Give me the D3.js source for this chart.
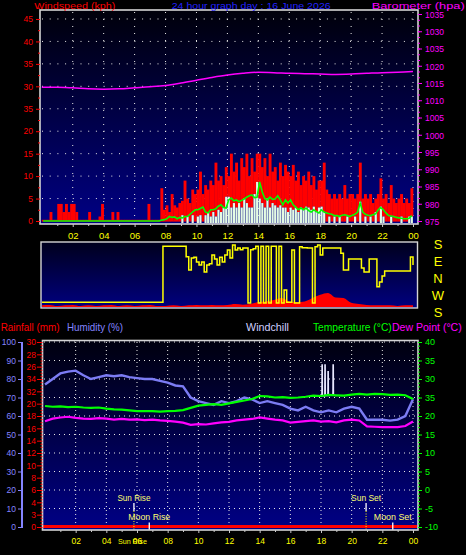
<!DOCTYPE html>
<html><head><meta charset="utf-8">
<script src="https://cdn.jsdelivr.net/npm/d3@7"></script>
<style>html,body{margin:0;padding:0;background:#000;}svg{display:block;}</style>
</head><body>
<svg id="c" width="466" height="555"></svg>
<script>
// ---------------- DATA ----------------
const hourTickValues = [2,4,6,8,10,12,14,16,18,20,22,24];
const hourTickLabels = ["02","04","06","08","10","12","14","16","18","20","22","00"];

// wind gust (kph), 10-minute samples, one row per hour
const gust = [
 0,0,0,2,0,0,  3.8,3.8,2,3.8,2,3.8,  3.8,2,0,0,0,0,  2,0,0,0,1,3.8,
 0,0,0,2,0,2,  0,0,0,0,0,0,  0,0,0,0,0,3.8,  0,0,0,0,7.3,2.5,
 3.5,2,6,3.5,3,4,  4.5,9,5,4,7,6,  7,11,6,8,7,9,  8,13,9,10,8,12,
 10,15,11,13,9,14,  12,15,10,14,11,15,  15,12,14,10,15,11,  12,9,13,10,12.5,11,
 10,12.5,9,11,8,10,  9,11,8,10,7,9,  9,13,7,6,5,6,  5,6,5,8,5,6,
 6,5,6,13,5,6,  5,6,4,5,6,9.5,  5,6,4,8,5,4,  5,6,4,5,4,7.3
];
// wind speed (kph), 10-minute samples
const speed = [
 0,0,0,0,0,0, 0,0,0,0,0,0, 0,0,0,0,0,0, 0,0,0,0,0,0,
 0,0,0,0,0,0, 0,0,0,0,0,0, 0,0,0,0,0,0, 0,0,0,0,0,0,
 0,0,0,0,0,0, 1.3,0,1,0,1.3,0, 1,1.3,0,1.3,2,1, 2,1,2.5,2,3,5.4,
 5.4,3,4,3,4,3, 5,4,3,3,6,8.7, 5,4,3,5,3,4, 3.5,3,3.5,3,3,2,
 3,2.5,3,2,3,2.5, 3.2,3,2.5,3.2,2,3, 3.2,2,0,1,0,1, 0,1,0,0,1,0,
 0,1,0,4.3,0,1, 0,1,0,2,0,3.2, 1,0,0,1,0,0, 0,1,0,0,1,1
];
// average wind speed (kph), 10-minute samples
const avgWind = [
 0,0,0,0,0,0, 0,0,0,0,0,0, 0,0,0,0,0,0, 0,0,0,0,0,0,
 0,0,0,0,0,0, 0,0,0,0,0,0, 0,0,0,0,0,0, 0,0,0,0,0.2,0.3,
 0.5,1,0.8,0.9,0.5,0.8, 0.7,1,1,1.5,2,2.5, 2.5,2.8,3.1,2,1.8,2.5, 2.5,2.7,3.3,3.6,3,2.9,
 4.7,5.1,4.5,4.7,4.3,4.6, 4.9,5.3,5.6,5.8,5.2,5.3, 8.7,6.5,5,4.7,5.3,4.8, 4.9,5.6,4.7,3.6,4.7,4,
 4.7,3.6,3.1,2.5,2.9,2.5, 2.9,2.3,2,2.5,2.1,1.8, 2.5,2,1.8,1.6,1.5,1.2, 1.2,1,1.3,1.4,1.2,1,
 1.3,1.5,2,4,2,1.5, 1.3,1.2,1.4,1.6,2.5,3, 2.5,1.8,1.2,1.1,1,0.8, 0.7,0.6,0.5,0.5,0.6,1.2
];
// barometer (hPa), hourly 00..24
const baro = [1013.8,1013.8,1013.6,1013.3,1013.2,1013.3,1013.6,1013.9,1014.3,1015.0,1015.8,1016.6,
 1017.3,1017.8,1018.1,1018.0,1017.8,1017.7,1017.6,1017.5,1017.6,1017.8,1018.0,1018.1,1018.3];

const windTickValues = [0,5,10,15,20,25,30,35,40,45];
const windTickLabels = ["0","5","10","15","20","35","30","35","40","45"];
const baroTickValues = [975,980,985,990,995,1000,1005,1010,1015,1020,1025,1030,1035];
const baroTickLabels = ["975","980","985","990","995","1000","1005","1010","1015","1020","1035","1030","1035"];

// wind direction (degrees), 10-minute samples + final
const windDir = [
 231,231,231,231,231,231, 231,231,231,231,231,231, 231,231,231,231,231,231, 231,231,231,231,231,231,
 231,231,231,231,231,231, 231,231,231,231,231,231, 231,231,231,231,231,231, 231,231,231,231,231,168,
 168,168,168,168,168,168, 168,168,113,42,106,110, 85,69,85,32,69,75, 122,100,69,110,85,122,
 148,106,175,148,159,150, 159,159,228,150,155,168, 228,168,228,168,228,168, 168,228,168,228,297,231,
 231,148,228,228,165,160, 160,159,159,228,165,175, 122,159,159,159,159,159, 159,159,131,42,42,100,
 100,100,100,100,53,32, 32,101,101,101,314,339, 10,37,37,37,37,37, 37,37,37,37,37,111,
 69
];
// wind speed trace in the direction panel (kph), half-hourly
const windMini = [2,2.3,1.5,2,2.3,1.5,2,1.5,2,2.3,1.5,2,1.5,2,2.3,1.5,
 1.5,2,1.5,2,2.3,2,2.3,2, 2.3,3,2.5,3, 4.5,5,6,7.6, 5,4.5,5,7.6, 10,11.4,8,7.6, 4,3,2.3,2, 2,2,1.5,2];
const compassLabels = ["S","E","N","W","S"];
const compassOffsets = [0,90,180,270,360];

// bottom panel, half-hourly 00:00..24:00
const humidity = [77,80,83,84,84.5,82,80,81,82,81.5,82,81,80.5,80,80,79,78,76.5,76,70,
 68,67,66,68,67,68,70,69,67,68,67,66,64,63,65,63,62,63,62,64,65,64,58,58,58,57.5,58,60,69];
const temperature = [22.7,22.5,22.6,22.4,22.5,22.3,22.2,22.3,22.0,21.8,21.7,21.5,21.3,21.3,21.3,21.2,21.3,21.4,21.6,22.2,
 22.8,23.0,23.2,23.0,23.4,23.8,24.2,24.6,25.4,25.3,25.0,25.1,24.9,25.0,25.2,25.5,25.4,25.7,25.6,25.5,
 25.8,26.0,25.8,26.0,25.9,25.7,25.8,25.6,24.6];
const dewPoint = [18.6,19.3,19.6,19.8,19.5,19.3,19.2,19.4,19.3,19.0,19.2,19.0,19.1,18.9,19.0,18.8,18.7,18.5,18.2,17.6,
 17.8,17.7,18.0,18.3,18.4,18.8,19.0,19.2,19.6,19.3,19.0,18.8,18.2,18.4,18.6,18.8,18.5,18.6,18.3,18.8,
 19.0,18.8,17.2,17.1,17.0,17.0,17.0,17.3,18.5];
const rainfall = [0,0];
const chillHours = [17.9,18.05,18.06,18.09,18.1,18.24,18.25,18.28,18.29,18.44,18.45,18.48,18.49,18.77,18.78,18.81,18.82,19.0];
const chillValues = [25.4,25.4,33.8,33.8,25.4,25.4,33.8,33.8,25.5,25.5,32,32,25.5,25.6,33.8,33.8,25.6,25.5];

const humTickValues = [0,10,20,30,40,50,60,70,80,90,100];
const rainTickValues = [0,2,4,6,8,10,12,14,16,18,20,22,24,26,28,30];
const rainTickLabels = ["0","3","4","6","8","10","12","14","16","18","20","32","34","26","28","30"];
const tempTickValues = [-10,-5,0,5,10,15,20,25,30,35,40];
const tempTickLabels = ["-10","-5","0","5","10","15","20","35","30","35","40"];

const astroNames = ["Sun Rise","Moon Rise","Sun Set","Moon Set"];
const astroHours = [5.8,6.8,20.94,22.68];

// ---------------- DRAW ----------------
const FONT = "'Liberation Sans', Arial, sans-serif";
const svg = d3.select("#c");
svg.append("rect").attr("width",466).attr("height",555).attr("fill","#000");
const defs = svg.append("defs");
function vgrad(id, c0, c1){
  const g = defs.append("linearGradient").attr("id",id).attr("x1",0).attr("y1",0).attr("x2",0).attr("y2",1);
  g.append("stop").attr("offset",0).attr("stop-color",c0);
  g.append("stop").attr("offset",1).attr("stop-color",c1);
}
vgrad("gTop","#00000a","#000084");
vgrad("gMid","#00001c","#000080");
vgrad("gBot","#00000e","#000086");

function txt(x,y,s,color,size,len,anchor){
  const t = svg.append("text").attr("x",x).attr("y",y).text(s).attr("fill",color)
    .attr("font-family",FONT).attr("font-size",size).attr("text-anchor",anchor||"start");
  if(len) t.attr("textLength",len).attr("lengthAdjust","spacingAndGlyphs");
  return t;
}
function styleAxis(g,color,size,keepDomain){
  if(!keepDomain) g.select(".domain").remove();
  g.attr("font-family",FONT).attr("font-size",size);
  g.selectAll(".tick line").attr("stroke",color);
  g.selectAll(".tick text").attr("fill",color);
}
const dotCol = "#e8e8e8";

// ===== top panel =====
const xTop = d3.scaleLinear().domain([0,24]).range([41.8,413]);
const wind = d3.scaleLinear().domain([0,47]).range([221,10]);
const baroS = d3.scaleLinear().domain([975,1035]).range([221,14]);
const step = 1/6, bw = xTop(step)-xTop(0);

svg.append("rect").attr("x",40).attr("y",10).attr("width",378).attr("height",214).attr("fill","url(#gTop)");
const gt = svg.append("g");
gt.selectAll("line.h").data(windTickValues.slice(1)).join("line")
  .attr("x1",42).attr("x2",416).attr("y1",d=>wind(d)).attr("y2",d=>wind(d))
  .attr("stroke",dotCol).attr("stroke-dasharray","1,6.7");
gt.selectAll("line.v").data(hourTickValues).join("line")
  .attr("x1",d=>xTop(d)).attr("x2",d=>xTop(d)).attr("y1",12).attr("y2",222)
  .attr("stroke",dotCol).attr("stroke-dasharray","1,6");
// gust bars
gt.selectAll("rect.g").data(gust).join("rect")
  .attr("x",(d,i)=>xTop(i*step)).attr("width",bw+0.3)
  .attr("y",d=>Math.min(wind(d),wind(0)-1.2))
  .attr("height",(d,i)=>{const b = speed[i]>0?wind(speed[i]):wind(0)+0.6; return Math.max(0,b-Math.min(wind(d),wind(0)-1.2));})
  .attr("fill","#ff0000");
// speed bars
gt.selectAll("rect.s").data(speed).join("rect")
  .attr("x",(d,i)=>xTop(i*step)+0.3).attr("width",bw-0.4)
  .attr("y",d=>wind(d)).attr("height",d=>wind(0)+2-wind(d))
  .attr("fill","#e4fbe4").attr("display",d=>d>0?null:"none");
// average line
gt.append("path").datum(avgWind)
  .attr("d",d3.line().x((d,i)=>xTop((i+0.5)*step)).y(d=>wind(d)))
  .attr("fill","none").attr("stroke","#00ff00").attr("stroke-width",1.6);
// barometer
gt.append("path").datum(baro)
  .attr("d",d3.line().x((d,i)=>xTop(i)).y(d=>baroS(d)).curve(d3.curveMonotoneX))
  .attr("fill","none").attr("stroke","#ff00ff").attr("stroke-width",1.5);
svg.append("rect").attr("x",40).attr("y",10).attr("width",378).attr("height",214)
  .attr("fill","none").attr("stroke","#d4d4d4").attr("stroke-width",1.6);

// axes top
let ax = svg.append("g").attr("transform","translate(40,0)")
  .call(d3.axisLeft(wind).tickValues(windTickValues).tickFormat((d,i)=>windTickLabels[i]).tickSize(4).tickPadding(3));
styleAxis(ax,"#ff0000",8.5);
ax = svg.append("g").attr("transform","translate(40,0)")
  .call(d3.axisLeft(wind).tickValues(windTickValues.map(v=>v+2.5)).tickFormat("").tickSize(2));
styleAxis(ax,"#ff0000",8);
ax = svg.append("g").attr("transform","translate(418,0)")
  .call(d3.axisRight(baroS).tickValues(baroTickValues).tickFormat((d,i)=>baroTickLabels[i]).tickSize(4).tickPadding(3));
styleAxis(ax,"#ff00ff",8.5);
ax.selectAll(".tick text").attr("dy","0.4em");
ax = svg.append("g").attr("transform","translate(418,0)")
  .call(d3.axisRight(baroS).tickValues(d3.range(975,1036,5/3)).tickFormat("").tickSize(2));
styleAxis(ax,"#ff00ff",8);
ax = svg.append("g").attr("transform","translate(0,224)")
  .call(d3.axisBottom(xTop).tickValues(hourTickValues).tickFormat((d,i)=>hourTickLabels[i]).tickSize(3).tickPadding(5));
styleAxis(ax,"#ffff00",9.5);
ax.selectAll(".tick line").attr("stroke","#c8c8c8");
ax = svg.append("g").attr("transform","translate(0,224)")
  .call(d3.axisBottom(xTop).tickValues(d3.range(1,24,2)).tickFormat("").tickSize(2));
styleAxis(ax,"#c8c8c8",8);

txt(34.3,8.6,"Windspeed (kph)","#ff0000",9.5,81);
txt(171.7,8.6,"24 hour graph day : 16 June 2026","#2222ff",9.5,159);
txt(371.7,8.6,"Barometer (hpa)","#ff00ff",9.5,93);

// ===== middle panel =====
const offS = d3.scaleLinear().domain([0,360]).range([244,312]);
const dirY = d => offS((540-d)%360);
const miniS = d3.scaleLinear().domain([0,50]).range([308,242]);
svg.append("rect").attr("x",41).attr("y",242).attr("width",376.5).attr("height",66).attr("fill","url(#gMid)");
svg.append("clipPath").attr("id","cm").append("rect").attr("x",42).attr("y",243).attr("width",375).attr("height",64);
const gm = svg.append("g").attr("clip-path","url(#cm)");
gm.append("path").datum(windMini.concat([windMini[windMini.length-1]]))
  .attr("d",d3.area().x((d,i)=>xTop(i/2)).y0(308).y1(d=>miniS(d)).curve(d3.curveMonotoneX))
  .attr("fill","#ff0000");
gm.append("path").datum(windDir)
  .attr("d",d3.line().x((d,i)=>xTop(i/6)).y(d=>dirY(d)).curve(d3.curveStepAfter))
  .attr("fill","none").attr("stroke","#ffff00").attr("stroke-width",1.5);
svg.append("rect").attr("x",41).attr("y",242).attr("width",376.5).attr("height",66)
  .attr("fill","none").attr("stroke","#d4d4d4").attr("stroke-width",1.4);
svg.selectAll("text.cmp").data(compassLabels).join("text")
  .attr("x",438).attr("y",(d,i)=>offS(compassOffsets[i])).attr("dy","0.36em")
  .attr("text-anchor","middle").attr("fill","#ffff00").attr("font-family",FONT).attr("font-size",13).text(d=>d);

// ===== bottom panel =====
const xBot = d3.scaleLinear().domain([0,24]).range([45,413]);
const humS = d3.scaleLinear().domain([0,100]).range([527,342]);
const rainS = d3.scaleLinear().domain([0,30]).range([527,342]);
const tempS = d3.scaleLinear().domain([-10,40]).range([527,342]);
svg.append("rect").attr("x",42.5).attr("y",340.5).attr("width",375.5).attr("height",189.5).attr("fill","url(#gBot)");
const gb = svg.append("g");
gb.selectAll("line.h").data(tempTickValues.slice(1)).join("line")
  .attr("x1",44).attr("x2",416).attr("y1",d=>tempS(d)).attr("y2",d=>tempS(d))
  .attr("stroke",dotCol).attr("stroke-dasharray","1,4");
gb.selectAll("line.v").data(hourTickValues).join("line")
  .attr("x1",d=>xBot(d)).attr("x2",d=>xBot(d)).attr("y1",342).attr("y2",528)
  .attr("stroke",dotCol).attr("stroke-dasharray","1,3");
const hx = (d,i)=>xBot(i/2);
gb.append("path").datum(humidity).attr("d",d3.line().x(hx).y(d=>humS(d)))
  .attr("fill","none").attr("stroke","#7c7cf4").attr("stroke-width",2.4);
gb.append("path").datum(dewPoint).attr("d",d3.line().x(hx).y(d=>tempS(d)))
  .attr("fill","none").attr("stroke","#ff00ff").attr("stroke-width",2.2);
gb.append("path").datum(chillValues).attr("d",d3.line().x((d,i)=>xBot(chillHours[i])).y(d=>tempS(d)))
  .attr("fill","none").attr("stroke","#e8e8ff").attr("stroke-width",1.2);
gb.append("path").datum(temperature).attr("d",d3.line().x(hx).y(d=>tempS(d)))
  .attr("fill","none").attr("stroke","#00ff00").attr("stroke-width",2.2);
gb.append("line").attr("x1",43).attr("x2",417).attr("y1",rainS(rainfall[0])-0.5).attr("y2",rainS(rainfall[1])-0.5)
  .attr("stroke","#ff0000").attr("stroke-width",3);
// astro markers
astroNames.forEach((name,i)=>{
  const x = xBot(astroHours[i]);
  const isSun = name.startsWith("Sun");
  const ly = isSun ? 501 : 520;
  const ty = isSun ? 503 : 522.5;
  const ty2 = isSun ? 511 : 530;
  txt(x, ly, name, "#ffff70", 9.5, isSun ? (name==="Sun Rise"?33:30) : (name==="Moon Rise"?42:38), "middle");
  svg.append("line").attr("x1",x).attr("x2",x).attr("y1",ty).attr("y2",ty2).attr("stroke","#ffffff").attr("stroke-width",1.3);
  if(isSun) svg.append("line").attr("x1",x).attr("x2",x).attr("y1",ty2).attr("y2",530)
    .attr("stroke","#ffff00").attr("stroke-dasharray","1,1.5");
});
svg.append("rect").attr("x",42.5).attr("y",340.5).attr("width",375.5).attr("height",189.5)
  .attr("fill","none").attr("stroke","#d4d4d4").attr("stroke-width",1.6);

// bottom axes
ax = svg.append("g").attr("transform","translate(22,0)")
  .call(d3.axisLeft(humS).tickValues(humTickValues).tickSize(4).tickPadding(2));
styleAxis(ax,"#8484ff",8.5);
svg.append("line").attr("x1",22).attr("x2",22).attr("y1",humS(100)).attr("y2",humS(0)+1).attr("stroke","#8484ff").attr("stroke-width",2);
ax = svg.append("g").attr("transform","translate(41,0)")
  .call(d3.axisLeft(rainS).tickValues(rainTickValues).tickFormat((d,i)=>rainTickLabels[i]).tickSize(4).tickPadding(1));
styleAxis(ax,"#ff0000",8.5);
ax = svg.append("g").attr("transform","translate(42.5,0)")
  .call(d3.axisLeft(rainS).tickValues(d3.range(0,30.01,0.5)).tickFormat("").tickSize(2));
styleAxis(ax,"#ff0000",8);
ax = svg.append("g").attr("transform","translate(418,0)")
  .call(d3.axisRight(tempS).tickValues(tempTickValues).tickFormat((d,i)=>tempTickLabels[i]).tickSize(4).tickPadding(3));
styleAxis(ax,"#00ff00",9);
ax = svg.append("g").attr("transform","translate(418,0)")
  .call(d3.axisRight(tempS).tickValues(d3.range(-10,40.01,1)).tickFormat("").tickSize(2));
styleAxis(ax,"#00ff00",8);
ax = svg.append("g").attr("transform","translate(0,530)")
  .call(d3.axisBottom(xBot).tickValues(hourTickValues).tickFormat((d,i)=>hourTickLabels[i]).tickSize(3).tickPadding(5));
styleAxis(ax,"#ffff00",8.5);
ax.selectAll(".tick line").attr("stroke","#c8c8c8");
ax = svg.append("g").attr("transform","translate(0,530)")
  .call(d3.axisBottom(xBot).tickValues(d3.range(1,24,2)).tickFormat("").tickSize(2));
styleAxis(ax,"#c8c8c8",8);
txt(xBot(astroHours[0])-1.5,544,astroNames[0],"#ffff00",8,29,"middle");

// bottom legend
txt(0.7,330.5,"Rainfall (mm)","#ff0000",11,59);
txt(67,330.5,"Humidity (%)","#8484ff",11,56);
txt(246,330.5,"Windchill","#d0d0ff",11,43);
txt(313,330.5,"Temperature (°C)","#00ff00",11,78.7);
txt(392,330.5,"Dew Point (°C)","#ff00ff",11,69.7);
</script>
</body></html>
